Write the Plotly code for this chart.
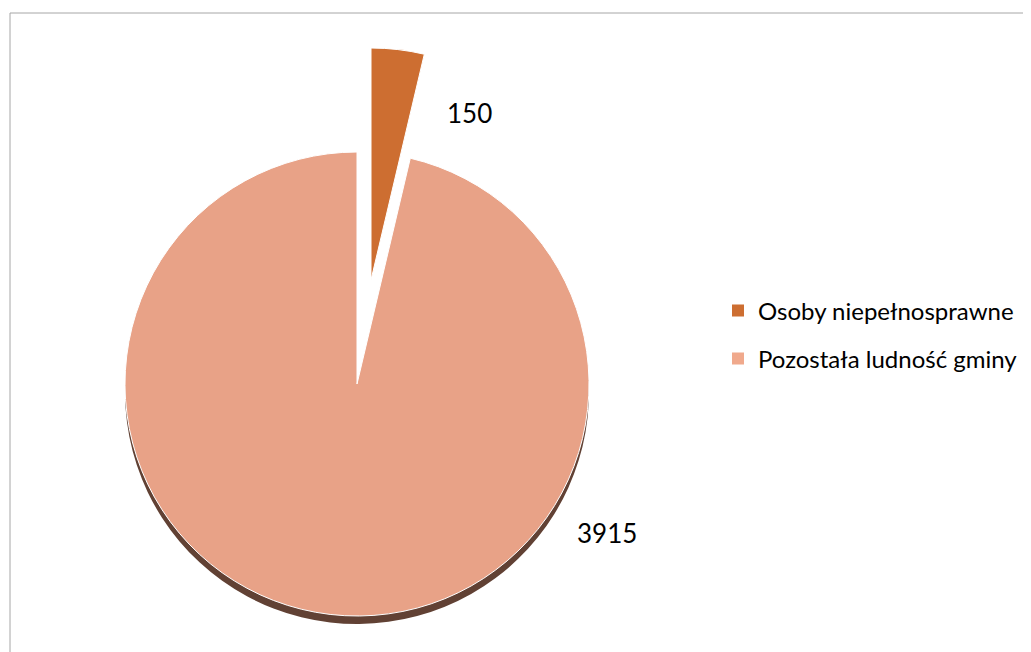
import plotly.graph_objects as go

labels = ["Osoby niepełnosprawne", "Pozostała ludność gminy"]
values = [150, 3915]
colors = ["#CD6E31", "#E8A287"]
legend_colors = ["#CD6E31", "#F0A98C"]
shadow_color = "#614134"
CLEAR = "rgba(0,0,0,0)"

W, H = 1031, 652
OFF = 8  # page offset of the plot inside the browser window


def px(x):
    return (x - OFF) / W


def py(y):
    return 1 - (y - OFF) / H


def dom(cx, cy, r):
    return dict(x=[px(cx - r), px(cx + r)], y=[py(cy + r), py(cy - r)])


R = 232
CX, CY = 357, 384          # main pie centre (px, reference coords)
PX, PY = 371, 280          # exploded slice centre (px)

fig = go.Figure()

# legend carriers (hidden under the main pie)
for i, lg in enumerate(["legend", "legend2"]):
    fig.add_trace(go.Pie(
        labels=[labels[i]], values=[values[i]], legend=lg,
        marker=dict(colors=[legend_colors[i]]), textinfo="none",
        domain=dom(CX - 60, CY + 60, 3), sort=False, showlegend=True,
        hoverinfo="skip"))

common = dict(labels=labels, values=values, sort=False, direction="clockwise",
              rotation=0, textinfo="none", showlegend=False)

# shadow
fig.add_trace(go.Pie(**common, domain=dom(CX, CY + 8, R),
                     marker=dict(colors=[CLEAR, shadow_color],
                                 line=dict(color=[CLEAR, CLEAR], width=0)),
                     hoverinfo="skip"))
# main slice
fig.add_trace(go.Pie(**common, domain=dom(CX, CY, R),
                     marker=dict(colors=[CLEAR, colors[1]],
                                 line=dict(color=[CLEAR, "white"], width=1)),
                     hoverinfo="label+value"))
# exploded slice
fig.add_trace(go.Pie(**common, domain=dom(PX, PY, R),
                     marker=dict(colors=[colors[0], CLEAR],
                                 line=dict(color=["white", CLEAR], width=1)),
                     hoverinfo="label+value"))

font_family = "Lato, 'Liberation Sans', sans-serif"
ann_pos = [(469, 113), (607, 533)]
for v, (ax, ay) in zip(values, ann_pos):
    fig.add_annotation(x=px(ax), y=py(ay), xref="paper", yref="paper",
                       xanchor="center", yanchor="middle",
                       text=str(v), showarrow=False,
                       font=dict(size=26, color="black", family=font_family))

leg_common = dict(xanchor="left", yanchor="middle", bgcolor=CLEAR,
                  font=dict(size=24, color="black", family=font_family))
fig.update_layout(
    width=W, height=H,
    margin=dict(l=0, r=0, t=0, b=0),
    paper_bgcolor="white", plot_bgcolor="white",
    legend=dict(x=px(718), y=py(311), **leg_common),
    legend2=dict(x=px(718), y=py(359), **leg_common),
    shapes=[dict(type="rect", xref="paper", yref="paper",
                 x0=px(10), x1=1.05, y0=-0.05, y1=py(13),
                 line=dict(color="#A6A6A6", width=1), layer="below")],
)

fig.write_html("out.html")
